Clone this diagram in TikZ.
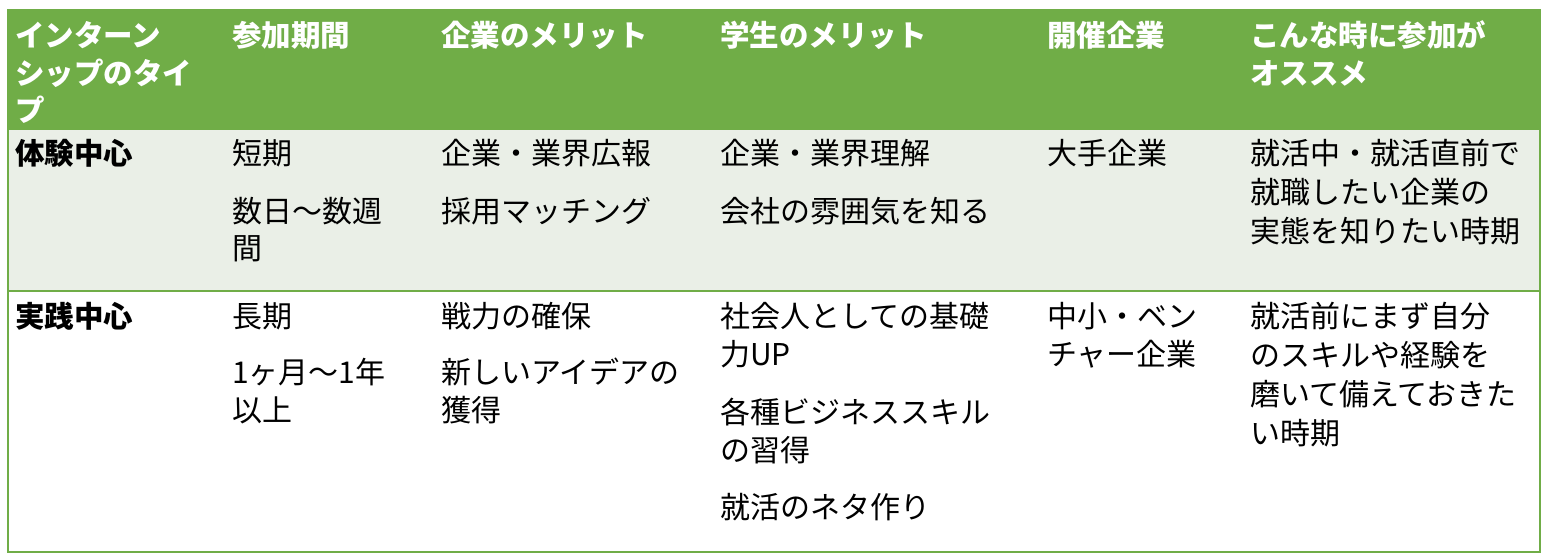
\documentclass[tikz,border=0pt]{standalone}
\usepackage{fontspec}
\setmainfont{Noto Sans CJK JP}
\definecolor{hdr}{HTML}{70AD47}
\definecolor{rowa}{HTML}{EAEFE7}
\begin{document}
\begin{tikzpicture}[x=1pt,y=-1pt,
  cell/.style={anchor=west,inner sep=0pt,font=\fontsize{30}{30}\selectfont},
  hcell/.style={cell,text=white,font=\fontsize{29.5}{30}\selectfont\bfseries},
  bcell/.style={cell,font=\fontsize{29.5}{30}\selectfont\bfseries}]
\useasboundingbox (0,0) rectangle (1547,556);
\fill[hdr] (8,10) rectangle (1540,129);
\fill[rowa] (8,129) rectangle (1540,291);
\draw[hdr,line width=2pt] (8,129) -- (1540,129);
\draw[hdr,line width=2pt] (8,291) -- (1540,291);
\draw[hdr,line width=1.5pt] (8,10) rectangle (1540,552);
% header
\node[hcell] (h1a) at (15,35) {インターン};
\node[hcell] (h1b) at (15,73) {シップのタイ};
\node[hcell] (h1c) at (15,110) {プ};
\node[hcell] (h2) at (232,35) {参加期間};
\node[hcell] (h3) at (441,35) {企業のメリット};
\node[hcell] (h4) at (720,35) {学生のメリット};
\node[hcell] (h5) at (1047,35) {開催企業};
\node[hcell] (h6a) at (1250,35) {こんな時に参加が};
\node[hcell] (h6b) at (1250,73) {オススメ};
% row 1
\node[bcell] (a1) at (15,153) {体験中心};
\node[cell] (a2a) at (232,153) {短期};
\node[cell] (a2b) at (232,211) {数日～数週};
\node[cell] (a2c) at (232,249) {間};
\node[cell] (a3a) at (441,153) {企業・業界広報};
\node[cell] (a3b) at (441,211) {採用マッチング};
\node[cell] (a4a) at (720,153) {企業・業界理解};
\node[cell] (a4b) at (720,211) {会社の雰囲気を知る};
\node[cell] (a5) at (1047,153) {大手企業};
\node[cell] (a6a) at (1250,153) {就活中・就活直前で};
\node[cell] (a6b) at (1250,192) {就職したい企業の};
\node[cell] (a6c) at (1250,231) {実態を知りたい時期};
% row 2
\node[bcell] (b1) at (15,316) {実践中心};
\node[cell] (b2a) at (232,316) {長期};
\node[cell] (b2b) at (232,372) {1ヶ月～1年};
\node[cell] (b2c) at (232,410) {以上};
\node[cell] (b3a) at (441,316) {戦力の確保};
\node[cell] (b3b) at (441,372) {新しいアイデアの};
\node[cell] (b3c) at (441,410) {獲得};
\node[cell] (b4a) at (720,316) {社会人としての基礎};
\node[cell] (b4b) at (720,354) {力UP};
\node[cell] (b4c) at (720,412) {各種ビジネススキル};
\node[cell] (b4d) at (720,450) {の習得};
\node[cell] (b4e) at (720,507) {就活のネタ作り};
\node[cell] (b5a) at (1047,316) {中小・ベン};
\node[cell] (b5b) at (1047,354) {チャー企業};
\node[cell] (b6a) at (1250,316) {就活前にまず自分};
\node[cell] (b6b) at (1250,355) {のスキルや経験を};
\node[cell] (b6c) at (1250,394) {磨いて備えておきた};
\node[cell] (b6d) at (1250,433) {い時期};
\end{tikzpicture}
\end{document}
